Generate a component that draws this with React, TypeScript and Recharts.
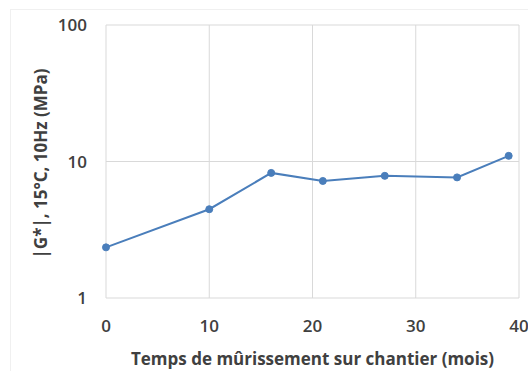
import { LineChart, Line, XAxis, YAxis, CartesianGrid } from "recharts";

const months = [0, 10, 16, 21, 27, 34, 39];
const modulus = [2.35, 4.47, 8.25, 7.2, 7.85, 7.65, 11.0];
const xTicks = [0, 10, 20, 30, 40];
const yTicks = [1, 10, 100];

const data = months.map((m, i) => ({ month: m, g: modulus[i] }));

const FONT = "'Open Sans', sans-serif";
const TEXT = "#404040";
const BLUE = "#4a7ebb";

export default function App() {
  return (
    <div
      style={{
        position: "absolute",
        left: 0,
        top: 0,
        width: 528,
        height: 371,
        background: "#fff",
      }}
    >
      <div
        style={{
          position: "absolute",
          left: 10,
          top: 9,
          width: 518,
          height: 362,
          borderLeft: "1px solid #f0f0f0",
          borderTop: "1px solid #f0f0f0",
        }}
      />
      <LineChart
        width={528}
        height={371}
        data={data}
        margin={{ top: 25, right: 9, left: 0, bottom: 0 }}
        style={{ position: "absolute", left: 0, top: 0 }}
      >
        <CartesianGrid stroke="#d9d9d9" strokeWidth={1} />
        <XAxis
          dataKey="month"
          type="number"
          domain={[0, 40]}
          ticks={xTicks}
          height={73}
          axisLine={false}
          tickLine={false}
          tickSize={0}
          tickMargin={22}
          tick={{ fill: TEXT, fontSize: 17, fontWeight: 600, fontFamily: FONT }}
          label={{
            value: "Temps de mûrissement sur chantier (mois)",
            position: "insideBottom",
            offset: 6,
            fill: TEXT,
            fontSize: 17,
            fontWeight: 700,
            fontFamily: FONT,
            dx: 0,
          }}
        />
        <YAxis
          scale="log"
          domain={[1, 100]}
          ticks={yTicks}
          width={106}
          axisLine={false}
          tickLine={false}
          tickSize={0}
          tickMargin={19}
          tick={{ fill: TEXT, fontSize: 17, fontWeight: 600, fontFamily: FONT }}
          label={{
            value: "|G*|, 15°C, 10Hz (MPa)",
            angle: -90,
            position: "center",
            dx: -12,
            dy: 2,
            fill: TEXT,
            fontSize: 17,
            fontWeight: 700,
            fontFamily: FONT,
          }}
        />
        <Line
          dataKey="g"
          stroke={BLUE}
          strokeWidth={2}
          dot={{ r: 3.5, fill: BLUE, stroke: BLUE, strokeWidth: 1 }}
          isAnimationActive={false}
        />
      </LineChart>
    </div>
  );
}
